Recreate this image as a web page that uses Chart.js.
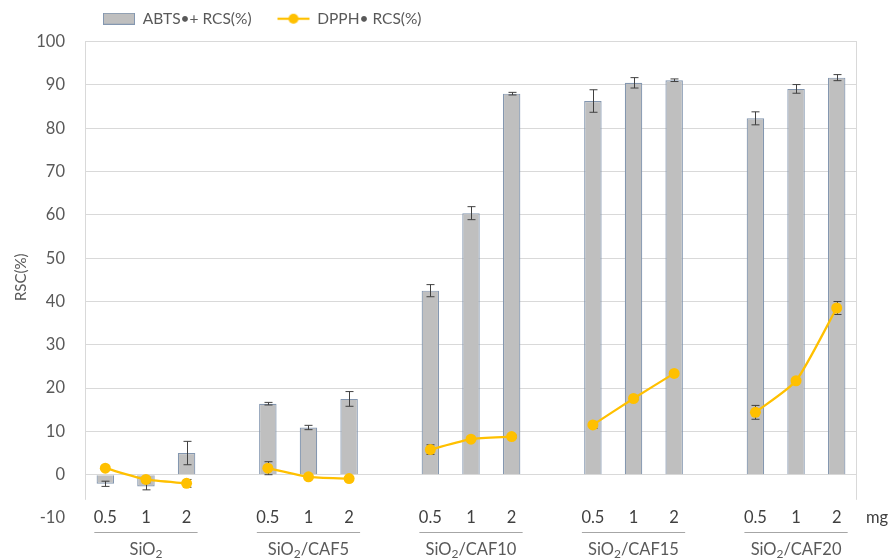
<!DOCTYPE html>
<html>
<head>
<meta charset="utf-8">
<script src="https://cdn.jsdelivr.net/npm/chart.js@4/dist/chart.umd.min.js"></script>
<style>
  html, body { margin: 0; padding: 0; background: #fff; }
  #wrap { width: 893px; height: 558px; }
</style>
</head>
<body>
<div id="wrap"><canvas id="myChart"></canvas></div>
<script>
const groups = ['SiO₂', 'SiO₂/CAF5', 'SiO₂/CAF10', 'SiO₂/CAF15', 'SiO₂/CAF20']
const doses = ['0.5', '1', '2']
const abts = [-2.1, -2.7, 5.0, 16.4, 10.9, 17.5, 42.5, 60.4, 88.0, 86.3, 90.5, 91.1, 82.3, 89.1, 91.7]
const abtsErr = [0.6, 0.8, 2.7, 0.3, 0.5, 1.7, 1.4, 1.5, 0.3, 2.6, 1.2, 0.3, 1.5, 1.0, 0.7]
const dpph = [1.5, -1.1, -2.0, 1.5, -0.5, -0.9, 5.8, 8.2, 8.8, 11.5, 17.6, 23.4, 14.4, 21.7, 38.5]
const dpphErr = [0.4, 0.5, 0.9, 1.5, 0.3, 0.3, 1.1, 0.3, 0.3, 0.8, 0.3, 0.3, 1.6, 0.3, 1.5]
const yTicks = [-10, 0, 10, 20, 30, 40, 50, 60, 70, 80, 90, 100]

const FONT = 'Lato, "Open Sans", sans-serif'
const TEXT = '#595959'
const SIZE = 16.5

// spread 15 values over the 19 category slots (one empty slot between groups)
function toSlots (arr) {
  const out = []
  groups.forEach((g, gi) => {
    if (gi > 0) out.push(null)
    doses.forEach((d, di) => out.push(arr[gi * doses.length + di]))
  })
  return out
}
const labels = toSlots(groups.flatMap(() => doses)).map(l => l === null ? '' : l)

// legend markers as small canvases
function makeMark (draw) {
  const cv = document.createElement('canvas')
  cv.width = 34
  cv.height = 12
  draw(cv.getContext('2d'))
  return cv
}
const barMark = makeMark(c => {
  c.fillStyle = '#BFBFBF'
  c.strokeStyle = '#8497B0'
  c.lineWidth = 1
  c.fillRect(1, 0.5, 32, 11)
  c.strokeRect(1.5, 0.5, 31, 11)
})
const lineMark = makeMark(c => {
  c.strokeStyle = '#FFC000'
  c.lineWidth = 2.25
  c.beginPath(); c.moveTo(1, 6); c.lineTo(33, 6); c.stroke()
  c.fillStyle = '#FFC000'
  c.beginPath(); c.arc(17, 6, 5, 0, Math.PI * 2); c.fill()
})

function drawErrors (chart, meta, values, errs) {
  const ctx = chart.ctx
  const y = chart.scales.y
  ctx.save()
  ctx.strokeStyle = '#404040'
  ctx.lineWidth = 1
  meta.data.forEach((el, i) => {
    const v = values[i]
    if (v === null || v === undefined) return
    const e = errs[i]
    const x = Math.round(el.x) + 0.5
    const y1 = y.getPixelForValue(v + e)
    const y2 = y.getPixelForValue(v - e)
    ctx.beginPath()
    ctx.moveTo(x, y1); ctx.lineTo(x, y2)
    ctx.moveTo(x - 4, y1); ctx.lineTo(x + 4, y1)
    ctx.moveTo(x - 4, y2); ctx.lineTo(x + 4, y2)
    ctx.stroke()
  })
  ctx.restore()
}

const errorBars = {
  id: 'errorBars',
  afterDatasetDraw (chart, args) {
    const ds = chart.data.datasets[args.index]
    if (ds.type === 'bar') drawErrors(chart, args.meta, ds.data, ds.errors)
  },
  beforeDatasetDraw (chart, args) {
    const ds = chart.data.datasets[args.index]
    if (ds.type === 'line') drawErrors(chart, args.meta, ds.data, ds.errors)
  }
}

const groupAxis = {
  id: 'groupAxis',
  afterDraw (chart) {
    const ctx = chart.ctx
    const x = chart.scales.x
    const y = chart.scales.y
    const area = chart.chartArea
    ctx.save()
    // plot frame sides
    ctx.strokeStyle = '#D9D9D9'
    ctx.lineWidth = 1
    const frameTop = y.getPixelForValue(100)
    const frameBottom = y.getPixelForValue(-5.8)
    ctx.beginPath()
    ctx.moveTo(area.left + 0.5, frameTop); ctx.lineTo(area.left + 0.5, frameBottom)
    ctx.moveTo(area.right - 0.5, frameTop); ctx.lineTo(area.right - 0.5, frameBottom)
    ctx.stroke()

    // dose labels sit on the -10 level, like the y tick label
    const doseY = y.getPixelForValue(-10)
    ctx.fillStyle = '#404040'
    ctx.textAlign = 'center'
    ctx.textBaseline = 'middle'
    ctx.font = SIZE + 'px ' + FONT
    labels.forEach((l, i) => {
      if (l) ctx.fillText(l, x.getPixelForValue(i), doseY)
    })
    ctx.fillText('mg', area.right + 20, doseY)

    groups.forEach((g, gi) => {
      const first = gi * (doses.length + 1)
      const last = first + doses.length - 1
      const x0 = x.getPixelForValue(first) - 11
      const x1 = x.getPixelForValue(last) + 11
      const ly = Math.round(doseY + 14) + 0.5
      ctx.strokeStyle = '#A6A6A6'
      ctx.beginPath(); ctx.moveTo(x0, ly); ctx.lineTo(x1, ly); ctx.stroke()

      // group name with subscript 2
      const parts = g.split('₂')
      const big = SIZE + 'px ' + FONT
      const small = '12px ' + FONT
      ctx.font = big
      const w0 = ctx.measureText(parts[0]).width
      const w2 = ctx.measureText(parts[1]).width
      ctx.font = small
      const w1 = ctx.measureText('2').width
      let tx = (x0 + x1) / 2 - (w0 + w1 + w2) / 2
      const ty = doseY + 32
      ctx.fillStyle = TEXT
      ctx.textAlign = 'left'
      ctx.font = big
      ctx.fillText(parts[0], tx, ty)
      tx += w0
      ctx.font = small
      ctx.fillText('2', tx, ty + 4)
      tx += w1
      ctx.font = big
      ctx.fillText(parts[1], tx, ty)
    })
    ctx.restore()
  }
}

new Chart(document.getElementById('myChart'), {
  data: {
    labels: labels,
    datasets: [
      {
        type: 'bar',
        label: 'ABTS•+ RCS(%)',
        data: toSlots(abts),
        errors: toSlots(abtsErr),
        backgroundColor: '#BFBFBF',
        borderColor: '#8497B0',
        borderWidth: 1.2,
        barPercentage: 0.43,
        categoryPercentage: 1,
        order: 2
      },
      {
        type: 'line',
        label: 'DPPH• RCS(%)',
        data: toSlots(dpph),
        errors: toSlots(dpphErr),
        borderColor: '#FFC000',
        backgroundColor: '#FFC000',
        borderWidth: 2.25,
        pointRadius: 5.5,
        pointHoverRadius: 5.5,
        pointBorderWidth: 0,
        tension: 0.2,
        spanGaps: false,
        order: 1
      }
    ]
  },
  options: {
    responsive: true,
    maintainAspectRatio: false,
    animation: false,
    devicePixelRatio: 1,
    layout: { padding: { top: -7, right: 36, bottom: 40, left: 12 } },
    plugins: {
      tooltip: { enabled: false },
      legend: {
        position: 'top',
        align: 'start',
        fullSize: false,
        labels: {
          color: TEXT,
          font: { family: FONT, size: 15.5 },
          usePointStyle: true,
          pointStyleWidth: 32,
          boxHeight: 11,
          boxWidth: 32,
          padding: 18,
          sort: (a, b) => a.datasetIndex - b.datasetIndex,
          generateLabels (chart) {
            const items = Chart.defaults.plugins.legend.labels.generateLabels(chart)
            return items.map(it => {
              it.pointStyle = it.datasetIndex === 1 ? lineMark : barMark
              it.text = it.text + '  '
              return it
            })
          }
        }
      }
    },
    scales: {
      x: {
        display: false
      },
      y: {
        min: -10,
        max: 101.2,
        afterBuildTicks (scale) { scale.ticks = yTicks.map(v => ({ value: v })) },
        afterFit (scale) { scale.width = 73 },
        title: {
          display: true,
          text: 'RSC(%)',
          color: TEXT,
          font: { family: FONT, size: 15 },
          padding: { top: 0, bottom: 4 }
        },
        grid: {
          color: ctx => (ctx.tick && ctx.tick.value === -10) ? 'rgba(0,0,0,0)' : '#D9D9D9',
          drawTicks: false,
          lineWidth: 1
        },
        border: { display: false },
        ticks: {
          color: TEXT,
          font: { family: FONT, size: SIZE },
          padding: 20
        }
      }
    }
  },
  plugins: [errorBars, groupAxis]
})
</script>
</body>
</html>
